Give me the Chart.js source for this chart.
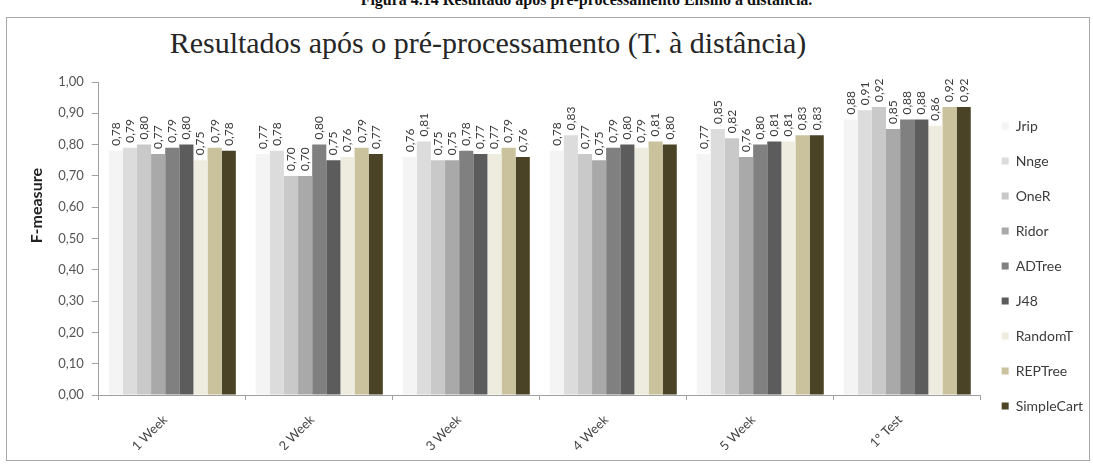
<!DOCTYPE html>
<html>
<head>
<meta charset="utf-8">
<script src="https://cdn.jsdelivr.net/npm/chart.js@4/dist/chart.umd.min.js"></script>
<style>
  html, body { margin: 0; padding: 0; background: #ffffff; }
  body { width: 1093px; height: 465px; position: relative; overflow: hidden; }
  #caption {
    position: absolute; left: 0; width: 1093px; top: -9px; text-align: center;
    font-family: "Liberation Serif", serif; font-weight: bold; font-size: 16px; color: #111;
    padding-left: 80px; box-sizing: border-box;
  }
  #frame {
    position: absolute; left: 6px; top: 17px; width: 1084px; height: 444px;
    border: 1px solid #a8a8a8; box-sizing: border-box; background: #fff;
  }
  #title {
    position: absolute; left: 0; top: 26px; width: 976px; text-align: center;
    font-family: "Liberation Serif", serif; font-size: 30px; color: #262626;
  }
  #wrap { position: absolute; left: 7px; top: 18px; width: 1086px; height: 442px; }
</style>
</head>
<body>
<div id="caption">Figura 4.14 Resultado após pré-processamento Ensino à distância.</div>
<div id="frame"></div>
<div id="title">Resultados após o pré-processamento (T. à distância)</div>
<div id="wrap"><canvas id="c"></canvas></div>
<script>
// Categories and F-measure per classifier
const categories = ["1 Week", "2 Week", "3 Week", "4 Week", "5 Week", "1º Test"];
const jrip       = [0.78, 0.77, 0.76, 0.78, 0.77, 0.88];
const nnge       = [0.79, 0.78, 0.81, 0.83, 0.85, 0.91];
const oneR       = [0.80, 0.70, 0.75, 0.77, 0.82, 0.92];
const ridor      = [0.77, 0.70, 0.75, 0.75, 0.76, 0.85];
const adTree     = [0.79, 0.80, 0.78, 0.79, 0.80, 0.88];
const j48        = [0.80, 0.75, 0.77, 0.80, 0.81, 0.88];
const randomT    = [0.75, 0.76, 0.77, 0.79, 0.81, 0.86];
const repTree    = [0.79, 0.79, 0.79, 0.81, 0.83, 0.92];
const simpleCart = [0.78, 0.77, 0.76, 0.80, 0.83, 0.92];
const yTicks = [0, 0.1, 0.2, 0.3, 0.4, 0.5, 0.6, 0.7, 0.8, 0.9, 1.0];
const yTitle = "F-measure";

const series = [
  { label: "Jrip",       data: jrip,       color: "#f4f4f4" },
  { label: "Nnge",       data: nnge,       color: "#dcdcdc" },
  { label: "OneR",       data: oneR,       color: "#c9c9c9" },
  { label: "Ridor",      data: ridor,      color: "#a9a9a9" },
  { label: "ADTree",     data: adTree,     color: "#808080" },
  { label: "J48",        data: j48,        color: "#5c5c5c" },
  { label: "RandomT",    data: randomT,    color: "#eeecdf" },
  { label: "REPTree",    data: repTree,    color: "#c9c29c" },
  { label: "SimpleCart", data: simpleCart, color: "#4a4326" }
];

const FONT = "Lato, 'DejaVu Sans', sans-serif";
const fmt = v => v.toFixed(2).replace(".", ",");

// Vertical value labels above each bar
const valueLabels = {
  id: "valueLabels",
  afterDatasetsDraw(chart) {
    const ctx = chart.ctx;
    ctx.save();
    ctx.font = "12px " + FONT;
    ctx.fillStyle = "#3a3a3a";
    ctx.textAlign = "left";
    ctx.textBaseline = "middle";
    chart.data.datasets.forEach((ds, i) => {
      const meta = chart.getDatasetMeta(i);
      meta.data.forEach((bar, j) => {
        ctx.save();
        ctx.translate(bar.x, bar.y - 5);
        ctx.rotate(-Math.PI / 2);
        ctx.fillText(fmt(ds.data[j]), 0, 0);
        ctx.restore();
      });
    });
    ctx.restore();
  }
};

// Y-axis title, drawn a little above the middle of the axis
const yAxisTitle = {
  id: "yAxisTitle",
  afterDraw(chart) {
    const ctx = chart.ctx;
    const area = chart.chartArea;
    const ys = chart.scales.y;
    ctx.save();
    ctx.font = "bold 16px " + FONT;
    ctx.fillStyle = "#222";
    ctx.textAlign = "center";
    ctx.textBaseline = "middle";
    ctx.translate(ys.left + 10, area.top + area.height * 0.395);
    ctx.rotate(-Math.PI / 2);
    ctx.fillText(yTitle, 0, 0);
    ctx.restore();
  }
};

new Chart(document.getElementById("c"), {
  type: "bar",
  data: {
    labels: categories,
    datasets: series.map(s => ({
      label: s.label,
      data: s.data,
      backgroundColor: s.color,
      borderWidth: 0
    }))
  },
  options: {
    responsive: true,
    maintainAspectRatio: false,
    animation: false,
    layout: { padding: { top: 64, right: 0, left: 20, bottom: 10 } },
    datasets: { bar: { categoryPercentage: 0.865, barPercentage: 1.0 } },
    plugins: {
      title: { display: false },
      tooltip: { enabled: false },
      legend: {
        position: "right",
        align: "center",
        labels: {
          boxWidth: 7, boxHeight: 7, padding: 21,
          color: "#3c3c3c",
          font: { family: FONT, size: 14 }
        }
      }
    },
    scales: {
      x: {
        offset: true,
        afterFit: scale => { scale.height = 55; },
        grid: { display: true, drawOnChartArea: false, drawTicks: true, tickLength: 5, offset: true, color: "#a0a0a0" },
        border: { display: true, color: "#a0a0a0" },
        ticks: {
          minRotation: 45, maxRotation: 45, color: "#444", padding: 12, labelOffset: -7,
          font: { family: FONT, size: 13 }
        }
      },
      y: {
        min: 0, max: 1,
        afterBuildTicks: axis => { axis.ticks = yTicks.map(v => ({ value: v })); },
        grid: { display: true, drawOnChartArea: false, drawTicks: true, tickLength: 7, color: "#a0a0a0" },
        border: { display: true, color: "#a0a0a0" },
        title: {
          display: true, text: yTitle, color: "rgba(0,0,0,0)",
          font: { family: FONT, size: 16, weight: "bold" },
          padding: { top: 0, bottom: 4 }
        },
        ticks: {
          color: "#555", padding: 8,
          font: { family: FONT, size: 13 },
          callback: v => fmt(v)
        }
      }
    }
  },
  plugins: [valueLabels, yAxisTitle]
});
</script>
</body>
</html>
